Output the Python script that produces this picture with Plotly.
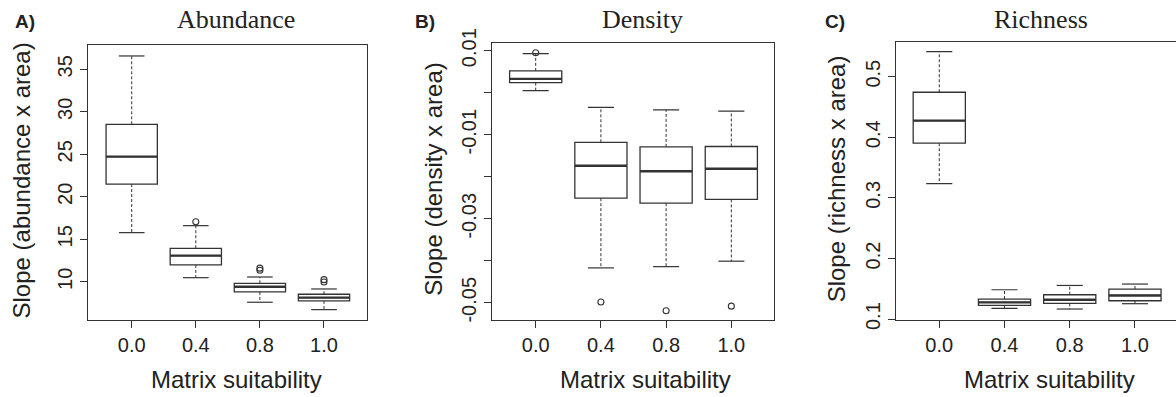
import plotly.graph_objects as go

W, H = 1176, 397

categories = ["0.0", "0.4", "0.8", "1.0"]

# Panel A: Abundance
ab_lower = [15.78, 10.48, 7.59, 6.72]
ab_q1 = [21.50, 11.98, 8.80, 7.74]
ab_med = [24.72, 13.07, 9.42, 8.13]
ab_q3 = [28.53, 13.94, 9.82, 8.53]
ab_upper = [36.57, 16.60, 10.56, 9.15]
ab_out_cat = ["0.4", "0.8", "0.8", "1.0", "1.0"]
ab_out_val = [17.07, 11.6, 11.35, 10.25, 9.98]

# Panel B: Density
de_lower = [0.0005, -0.0417, -0.0414, -0.0401]
de_q1 = [0.0024, -0.0251, -0.0263, -0.0254]
de_med = [0.0033, -0.0174, -0.0187, -0.0181]
de_q3 = [0.0052, -0.0118, -0.0129, -0.0128]
de_upper = [0.0093, -0.0035, -0.0041, -0.0044]
de_out_cat = ["0.0", "0.4", "0.8", "1.0"]
de_out_val = [0.0095, -0.0498, -0.0519, -0.0508]

# Panel C: Richness
ri_lower = [0.3236, 0.1176, 0.1166, 0.1254]
ri_q1 = [0.3902, 0.1226, 0.1259, 0.1303]
ri_med = [0.4275, 0.1275, 0.1319, 0.1390]
ri_q3 = [0.4743, 0.1331, 0.1402, 0.1496]
ri_upper = [0.5412, 0.1484, 0.1555, 0.1578]
ri_out_cat = []
ri_out_val = []

titles = ["Abundance", "Density", "Richness"]
letters = ["A)", "B)", "C)"]
ytitles = ["Slope (abundance x area)", "Slope (density x area)", "Slope (richness x area)"]
xtitle = "Matrix suitability"

a_ticks = [10, 15, 20, 25, 30, 35]
a_ticktext = ["10", "15", "20", "25", "30", "35"]
b_ticks = [0.01, 0.0, -0.01, -0.02, -0.03, -0.04, -0.05]
b_ticktext = ["0.01", "", "-0.01", "", "-0.03", "", "-0.05"]
c_ticks = [0.1, 0.2, 0.3, 0.4, 0.5]
c_ticktext = ["0.1", "0.2", "0.3", "0.4", "0.5"]

INK = "#222222"
LINE = "#333333"
SANS = "Liberation Sans, Arial, sans-serif"
SERIF = "Liberation Serif, Times New Roman, serif"

# pixel geometry: (left, right, top, bottom) of each plot box
panels = [
    dict(px=(88, 367, 45, 320), xr=(-0.682, 3.671), yr=(5.5, 37.86),
         tv=a_ticks, tt=a_ticktext, title_x=236, xt_x=236.5, yt_x=21, letter_x=25),
    dict(px=(492, 774.3, 43.3, 320), xr=(-0.670, 3.659), yr=(-0.0541, 0.01176),
         tv=b_ticks, tt=b_ticktext, title_x=642, xt_x=645, yt_x=434, letter_x=425),
    dict(px=(895.7, 1176, 41.7, 320), xr=(-0.668, 3.629), yr=(0.0985, 0.5577),
         tv=c_ticks, tt=c_ticktext, title_x=1041, xt_x=1049, yt_x=836.5, letter_x=835),
]

data = [
    (ab_lower, ab_q1, ab_med, ab_q3, ab_upper, ab_out_cat, ab_out_val),
    (de_lower, de_q1, de_med, de_q3, de_upper, de_out_cat, de_out_val),
    (ri_lower, ri_q1, ri_med, ri_q3, ri_upper, ri_out_cat, ri_out_val),
]

fig = go.Figure()
pos = list(range(len(categories)))
BOXW = 0.8
STAPLE = 0.2

for k, (lo, q1, med, q3, up, oc, ov) in enumerate(data):
    xa = "x" if k == 0 else f"x{k+1}"
    ya = "y" if k == 0 else f"y{k+1}"
    # dashed whiskers
    wx, wy = [], []
    for p, a, b, c, d in zip(pos, lo, q1, q3, up):
        wx += [p, p, None, p, p, None]
        wy += [c, d, None, b, a, None]
    fig.add_trace(go.Scatter(x=wx, y=wy, mode="lines", xaxis=xa, yaxis=ya,
                             line=dict(color=LINE, width=1, dash="3px,2px"),
                             hoverinfo="skip"))
    # staples
    sx, sy = [], []
    for p, a, d in zip(pos, lo, up):
        sx += [p - STAPLE, p + STAPLE, None, p - STAPLE, p + STAPLE, None]
        sy += [d, d, None, a, a, None]
    fig.add_trace(go.Scatter(x=sx, y=sy, mode="lines", xaxis=xa, yaxis=ya,
                             line=dict(color=LINE, width=1.2), hoverinfo="skip"))
    # boxes
    fig.add_trace(go.Box(x=pos, q1=q1, median=med, q3=q3, lowerfence=q1, upperfence=q3,
                         width=BOXW, whiskerwidth=0, fillcolor="white",
                         line=dict(color=LINE, width=1.3), xaxis=xa, yaxis=ya,
                         boxpoints=False, hoverinfo="skip"))
    # thick medians
    mx, my = [], []
    for p, m in zip(pos, med):
        mx += [p - BOXW / 2, p + BOXW / 2, None]
        my += [m, m, None]
    fig.add_trace(go.Scatter(x=mx, y=my, mode="lines", xaxis=xa, yaxis=ya,
                             line=dict(color=LINE, width=2.4), hoverinfo="skip"))
    # outliers
    if oc:
        ox = [categories.index(c) for c in oc]
        fig.add_trace(go.Scatter(x=ox, y=ov, mode="markers", xaxis=xa, yaxis=ya,
                                 marker=dict(symbol="circle-open", size=6,
                                             color=LINE, line=dict(width=1.1)),
                                 hoverinfo="skip"))

layout = dict(width=W, height=H, margin=dict(l=0, r=0, t=0, b=0, pad=0), autosize=False,
              showlegend=False, plot_bgcolor="white", paper_bgcolor="white",
              font=dict(family=SANS, color=INK))

annotations = []
for k, P in enumerate(panels):
    l, r, t, b = P["px"]
    xkey = "xaxis" if k == 0 else f"xaxis{k+1}"
    ykey = "yaxis" if k == 0 else f"yaxis{k+1}"
    xanchor = "y" if k == 0 else f"y{k+1}"
    yanchor = "x" if k == 0 else f"x{k+1}"
    layout[xkey] = dict(domain=[l / W, r / W], range=list(P["xr"]), anchor=xanchor,
                        tickvals=pos, ticktext=categories, ticks="outside", ticklen=7,
                        tickcolor=LINE, tickwidth=1.1, showgrid=False, zeroline=False,
                        showline=True, mirror=True, linecolor=LINE, linewidth=1.2,
                        tickfont=dict(size=20, family=SANS, color=INK),
                        automargin=False, fixedrange=True)
    layout[ykey] = dict(domain=[1 - b / H, 1 - t / H], range=list(P["yr"]), anchor=yanchor,
                        tickvals=P["tv"], ticktext=P["tt"], ticks="outside", ticklen=7,
                        tickcolor=LINE, tickwidth=1.1, showgrid=False, zeroline=False,
                        showline=True, mirror=(k != 2), linecolor=LINE, linewidth=1.2,
                        tickangle=-90, tickfont=dict(size=20, family=SANS, color=INK),
                        automargin=False, fixedrange=True)
    annotations.append(dict(text=titles[k], x=P["title_x"] / W, y=1 - 19.5 / H,
                            xref="paper", yref="paper", xanchor="center", yanchor="middle",
                            showarrow=False, font=dict(family=SERIF, size=26, color=INK)))
    annotations.append(dict(text="<b>" + letters[k] + "</b>", x=P["letter_x"] / W, y=1 - 22 / H,
                            xref="paper", yref="paper", xanchor="center", yanchor="middle",
                            showarrow=False, font=dict(family=SANS, size=19, color=INK)))
    annotations.append(dict(text=xtitle, x=P["xt_x"] / W, y=1 - 379 / H,
                            xref="paper", yref="paper", xanchor="center", yanchor="middle",
                            showarrow=False, font=dict(family=SANS, size=24, color=INK)))
    annotations.append(dict(text=ytitles[k], x=P["yt_x"] / W, y=1 - ((t + b) / 2 - 2) / H,
                            xref="paper", yref="paper", xanchor="center", yanchor="middle",
                            textangle=-90, showarrow=False,
                            font=dict(family=SANS, size=24, color=INK)))

layout["annotations"] = annotations
fig.update_layout(**layout)
fig.write_html("out.html")
